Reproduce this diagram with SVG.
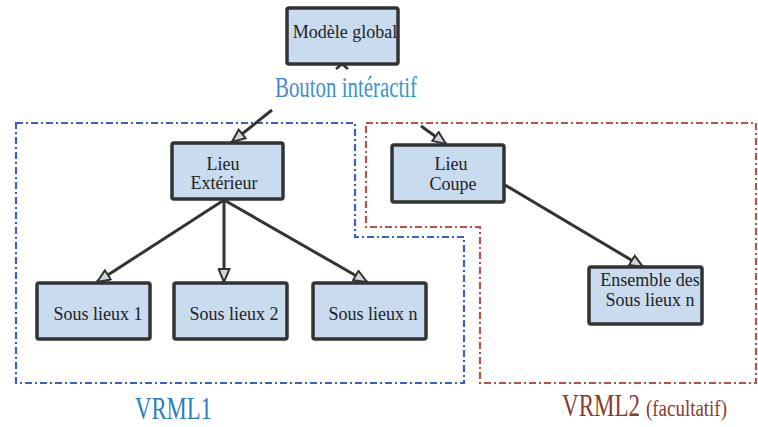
<svg xmlns="http://www.w3.org/2000/svg" width="758" height="427" viewBox="0 0 758 427">
<defs>
<style>
.box{fill:#c9dbee;stroke:#333;stroke-width:3.5}
.lbl{font-family:'Liberation Serif','DejaVu Serif','Times New Roman',serif;font-size:18px;fill:#222;text-anchor:middle}
.big{font-family:'Liberation Serif','DejaVu Serif','Times New Roman',serif}
.edge{fill:none;stroke:#333;stroke-width:3}
.zone1{fill:none;stroke:#3c5fc2;stroke-width:2.2;stroke-dasharray:7 3 2 3}
.zone2{fill:none;stroke:#b5524a;stroke-width:2.2;stroke-dasharray:7 3 2 3}
</style>
<marker id="arr" markerUnits="userSpaceOnUse" markerWidth="15" markerHeight="13" viewBox="0 0 15 13" refX="14" refY="6.5" orient="auto">
<path d="M1,1 L14,6.5 L1,12 Z" fill="#cfd6de" stroke="#333" stroke-width="2"/>
</marker>
<linearGradient id="bt" x1="0" y1="0" x2="1" y2="0">
<stop offset="0" stop-color="#4a86d0"/>
<stop offset="1" stop-color="#22a2cc"/>
</linearGradient>
</defs>
<rect width="758" height="427" fill="#fff"/>
<g id="zones">
<path class="zone1" d="M16,123 H355 V237 H464 V383 H16 Z"/>
<path class="zone2" d="M366,123 H756 V383 H480 V227 H366 Z"/>
</g>
<g id="connectors">
<path class="edge" d="M272,110 L232,142" marker-end="url(#arr)"/>
<path class="edge" d="M421,126 L446,144" marker-end="url(#arr)"/>
<path class="edge" d="M224,200 L97,282" marker-end="url(#arr)"/>
<path class="edge" d="M224,200 L224,282" marker-end="url(#arr)"/>
<path class="edge" d="M224,200 L367,282" marker-end="url(#arr)"/>
<path class="edge" d="M505,185 L643,267" marker-end="url(#arr)"/>
<path d="M336,69 L342,64 L348,69" fill="none" stroke="#333" stroke-width="2.5"/>
</g>
<g id="modele">
<rect class="box" x="287" y="8" width="111" height="56" rx="2"/>
<text class="lbl" x="345" y="38">Modèle global</text>
</g>
<g id="bouton">
<text class="big" transform="translate(275,97) scale(0.696,1)" font-size="30" fill="url(#bt)">Bouton intéractif</text>
</g>
<g id="lieu-ext">
<rect class="box" x="172" y="143" width="111" height="56" rx="2"/>
<text class="lbl" x="223" y="170">Lieu</text>
<text class="lbl" x="224" y="189">Extérieur</text>
</g>
<g id="lieu-coupe">
<rect class="box" x="392" y="145" width="112" height="57" rx="2"/>
<text class="lbl" x="451" y="170">Lieu</text>
<text class="lbl" x="453" y="190">Coupe</text>
</g>
<g id="sous1">
<rect class="box" x="37" y="283" width="113" height="56" rx="2"/>
<text class="lbl" x="98" y="320">Sous lieux 1</text>
</g>
<g id="sous2">
<rect class="box" x="174" y="283" width="113" height="56" rx="2"/>
<text class="lbl" x="234" y="320">Sous lieux 2</text>
</g>
<g id="sousn">
<rect class="box" x="313" y="283" width="113" height="56" rx="2"/>
<text class="lbl" x="373" y="320">Sous lieux n</text>
</g>
<g id="ensemble">
<rect class="box" x="589" y="267" width="113" height="57" rx="2"/>
<text class="lbl" x="650" y="286" font-size="17">Ensemble des</text>
<text class="lbl" x="650" y="306" font-size="17">Sous lieux n</text>
</g>
<g id="vrml1">
<text class="big" transform="translate(135,419) scale(0.733,1)" font-size="31" fill="#2b7fc0">VRML1</text>
</g>
<g id="vrml2">
<text class="big" transform="translate(562,416) scale(0.743,1)" font-size="31" fill="#8b3a30">VRML2</text>
<text class="big" transform="translate(646,416) scale(0.79,1)" font-size="24" fill="#8b3a30">(facultatif)</text>
</g>
</svg>
